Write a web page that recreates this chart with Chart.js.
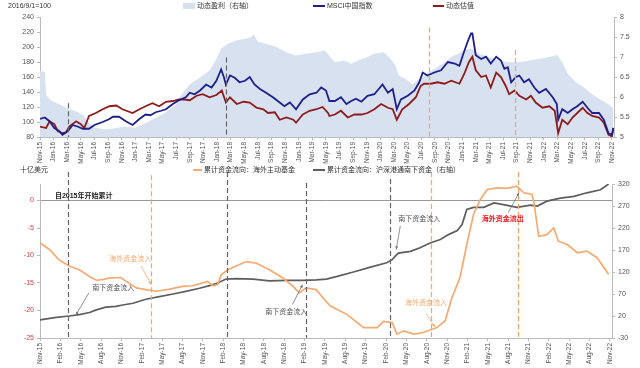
<!DOCTYPE html>
<html>
<head>
<meta charset="utf-8">
<script src="https://cdn.jsdelivr.net/npm/chart.js@4.4.1/dist/chart.umd.min.js"></script>
<style>
  html, body { margin: 0; width: 640px; height: 368px; overflow: hidden; background: #fff;
    font-family: "Liberation Sans", "Noto Sans CJK SC", sans-serif; }
  .box { position: absolute; left: 0; width: 640px; }
  #topBox { top: 0; height: 165px; }
  #botBox { top: 163px; height: 205px; }
  .t { position: absolute; font-size: 7px; line-height: 8px; color: #333; white-space: nowrap; z-index: 2; }
  .sw { position: absolute; z-index: 2; }
</style>
</head>
<body>
<div class="box" id="topBox"><canvas id="topChart"></canvas></div>
<div class="box" id="botBox"><canvas id="botChart"></canvas></div>

<!-- legends / headings -->
<div class="t" style="left:8px;top:2px">2016/9/1=100</div>
<div class="sw" style="left:183px;top:3px;width:12px;height:6px;background:#d8e1f0"></div>
<div class="t" style="left:197px;top:2px">动态盈利（右轴）</div>
<div class="sw" style="left:313px;top:5px;width:12px;height:2px;background:#1c1f8c"></div>
<div class="t" style="left:327px;top:2px">MSCI中国指数</div>
<div class="sw" style="left:433px;top:5px;width:11px;height:2px;background:#8e1b1b"></div>
<div class="t" style="left:446px;top:2px">动态估值</div>

<div class="t" style="left:20px;top:166px">十亿美元</div>
<div class="sw" style="left:193px;top:169px;width:9px;height:2px;background:#f6aa70"></div>
<div class="t" style="left:204px;top:166px">累计资金流向：海外主动基金</div>
<div class="sw" style="left:313px;top:169px;width:12px;height:2px;background:#5e5e5e"></div>
<div class="t" style="left:327px;top:166px">累计资金流向：沪深港通南下资金（右轴）</div>

<script>
// ── palette ───────────────────────────────────────────────────────────────────
const NAVY = '#1c1f8c';
const MAROON = '#8e1b1b';
const AREA = '#d8e1f0';
const ORANGE = '#f6aa70';
const GRAY = '#5e5e5e';
const DASH_GRAY = '#666';
const DASH_ORANGE = '#f4a466';
const AXIS = '#bbb';
const TICK_TXT = '#555';

Chart.defaults.font.family = '"Liberation Sans", "Noto Sans CJK SC", sans-serif';

// ── tick labels (x = months since Nov-15) ────────────────────────────────────
const TOP_TICKS = ['Nov-15','Jan-16','Mar-16','May-16','Jul-16','Sep-16','Nov-16','Jan-17','Mar-17','May-17','Jul-17','Sep-17','Nov-17',
  'Jan-18','Mar-18','May-18','Jul-18','Sep-18','Nov-18','Jan-19','Mar-19','May-19','Jul-19','Sep-19','Nov-19',
  'Jan-20','Mar-20','May-20','Jul-20','Sep-20','Nov-20','Jan-21','Mar-21','May-21','Jul-21','Sep-21','Nov-21',
  'Jan-22','Mar-22','May-22','Jul-22','Sep-22','Nov-22'];
const BOT_TICKS = ['Nov-15','Feb-16','May-16','Aug-16','Nov-16','Feb-17','May-17','Aug-17','Nov-17','Feb-18','May-18','Aug-18','Nov-18',
  'Feb-19','May-19','Aug-19','Nov-19','Feb-20','May-20','Aug-20','Nov-20','Feb-21','May-21','Aug-21','Nov-21',
  'Feb-22','May-22','Aug-22','Nov-22'];

// ── top panel series: [month, value] ─────────────────────────────────────────
const msciIndex = [[0,104],[0.7,106],[1.4,101],[2.1,92],[2.8,88],[3.3,83],[3.8,86],[4.1,88],[4.8,96],[5.5,94],[6.3,91],[7.2,91],
  [8.0,96],[9.2,100],[10.2,104],[10.7,107],[11.6,107],[12.6,101],[13.6,96],[14.6,104],[15.5,110],[16.2,109],[17.0,113],[17.8,115],
  [18.5,117],[19.5,124],[20.4,129],[21.4,133],[22.0,139],[22.7,137],[23.5,142],[24.4,150],[25.2,146],[25.9,155],[26.6,170],[27.0,160],
  [27.3,150],[27.9,162],[28.6,159],[29.3,153],[30.1,155],[30.8,160],[31.5,150],[32.3,144],[33.2,139],[34.2,133],[35.2,126],[35.9,121],
  [36.7,126],[37.6,117],[38.6,130],[39.6,137],[40.6,139],[41.3,146],[42.0,142],[42.5,128],[43.3,128],[44.2,133],[45.0,124],[45.7,128],
  [46.4,131],[47.2,127],[48.1,135],[49.1,137],[50.3,150],[51.1,139],[51.8,144],[52.4,117],[53.0,130],[54.0,135],[55.0,142],[55.7,153],
  [56.2,166],[56.9,162],[57.9,166],[58.9,169],[59.9,180],[60.9,178],[61.6,175],[62.1,189],[62.8,207],[63.3,218],[63.5,218],[64.0,189],
  [64.8,184],[65.5,187],[66.2,178],[67.0,187],[67.7,182],[68.2,171],[68.7,173],[69.2,153],[69.9,160],[70.4,162],[71.1,153],[71.8,157],
  [72.6,146],[73.3,139],[74.3,144],[75.3,133],[75.9,124],[76.1,103],[76.7,117],[77.5,112],[78.2,117],[78.9,121],[79.7,127],[80.4,119],
  [81.1,112],[82.1,112],[82.8,103],[83.5,85],[84.0,83],[84.2,92]];

const valuation = [[0,94],[0.9,92],[1.4,101],[2.1,97],[2.6,88],[3.3,85],[3.8,86],[4.3,94],[5.3,101],[6.0,97],[6.5,92],[7.2,108],
  [8.2,112],[9.2,117],[10.2,121],[11.2,122],[12.1,117],[13.6,112],[14.6,117],[15.5,121],[16.5,125],[17.5,121],[18.5,127],[19.5,128],
  [20.4,130],[21.2,130],[22.0,129],[23.0,135],[23.9,137],[24.9,133],[25.9,136],[26.7,142],[27.3,126],[27.9,133],[28.9,124],[29.9,127],
  [30.8,126],[31.8,119],[32.8,117],[33.5,112],[34.5,113],[35.2,103],[36.2,106],[37.2,103],[37.6,99],[38.6,110],[39.6,115],[40.6,117],
  [41.5,120],[42.3,112],[42.5,108],[43.3,110],[44.2,115],[45.2,106],[46.2,110],[47.2,110],[48.1,112],[49.1,117],[50.1,124],[51.1,119],
  [51.8,117],[52.4,103],[53.2,117],[54.2,124],[55.2,133],[55.9,148],[56.4,151],[57.4,151],[58.4,153],[59.4,151],[60.4,155],[61.6,151],
  [62.3,164],[63.0,180],[63.5,187],[64.0,169],[64.8,160],[65.5,162],[66.2,146],[67.0,166],[67.7,160],[68.4,148],[68.9,137],[69.7,142],
  [70.4,135],[71.4,130],[72.1,135],[72.8,126],[73.8,119],[74.8,121],[75.6,115],[76.1,85],[76.7,103],[77.5,97],[78.2,106],[78.9,112],
  [79.7,119],[80.4,112],[81.1,108],[82.1,106],[82.8,99],[83.5,83],[84.0,81],[84.2,92]];

const earnings = [[0,6.65],[0.7,6.63],[0.9,6.05],[1.6,5.92],[3.0,5.8],[4.0,5.72],[5.4,5.63],[6.4,5.54],[7.0,5.38],[8.0,5.24],[9.5,5.19],
  [11.0,5.22],[12.5,5.26],[14.0,5.23],[15.5,5.35],[17.0,5.48],[18.5,5.62],[20.0,5.82],[20.5,6.0],[22.0,6.32],[23.5,6.49],[24.9,6.66],
  [25.9,6.95],[26.6,7.21],[27.6,7.33],[28.9,7.42],[30.3,7.46],[31.0,7.5],[31.4,7.56],[32.0,7.38],[33.2,7.33],[34.7,7.25],[36.2,7.12],
  [37.6,7.04],[39.1,7.08],[40.6,7.12],[41.8,7.17],[43.3,6.87],[44.7,6.91],[45.7,6.83],[47.2,6.95],[48.1,7.0],[49.1,7.08],[50.5,7.12],
  [51.5,6.95],[52.2,6.79],[52.7,6.54],[53.7,6.45],[54.7,6.32],[55.4,6.41],[56.4,6.54],[57.9,6.7],[59.4,6.87],[60.4,7.0],[61.4,7.08],
  [62.3,7.17],[63.3,7.21],[64.5,7.08],[65.9,7.0],[67.4,6.91],[68.9,6.87],[70.4,6.87],[71.8,6.91],[73.3,6.95],[74.8,7.0],[76.0,7.05],
  [76.7,6.87],[77.5,6.58],[78.7,6.37],[79.9,6.24],[81.1,6.07],[82.3,5.94],[83.5,5.82],[84.2,5.72]];

// ── bottom panel series: [month, value] ──────────────────────────────────────
const activeFunds = [[0,-7.7],[1.4,-8.9],[2.8,-10.8],[4.3,-11.9],[5.8,-12.6],[7.3,-13.8],[8.3,-14.5],[9.2,-14.4],[10.2,-14.1],
  [11.9,-14.0],[12.7,-14.7],[14.2,-15.9],[15.6,-16.2],[17.1,-16.5],[19.1,-16.1],[21.0,-15.6],[22.5,-15.5],[24.7,-14.7],[25.5,-15.5],
  [26.2,-15.3],[26.7,-13.5],[27.7,-12.6],[28.9,-11.9],[30.4,-11.1],[31.9,-11.4],[33.8,-12.6],[35.8,-14.1],[37.3,-15.6],[38.2,-16.8],
  [39.2,-15.9],[40.7,-16.2],[41.9,-18.0],[42.8,-19.2],[45.2,-20.7],[47.7,-23.1],[49.7,-23.1],[50.6,-22.0],[51.9,-22.2],[52.6,-24.3],
  [53.6,-23.7],[55.1,-24.3],[56.5,-24.0],[58.5,-23.1],[59.7,-21.9],[60.7,-17.7],[61.9,-14.0],[62.9,-8.0],[63.9,-2.5],[64.9,0.2],
  [65.9,2.0],[67.4,2.3],[68.8,2.2],[70.3,2.6],[71.3,1.4],[72.5,1.1],[72.8,-0.4],[73.5,-6.5],[74.7,-6.2],[75.7,-5.0],[76.4,-7.4],
  [77.7,-8.0],[79.2,-9.5],[80.6,-9.2],[82.1,-10.4],[83.8,-13.4]];

const southbound = [[0,11],[2.4,17],[4.3,20],[5.8,23],[7.3,28],[8.3,34],[9.7,40],[11.2,42],[12.2,45],[13.7,49],[15.6,58],[17.6,64],
  [19.6,70],[21.5,76],[23.5,83],[25.0,89],[26.2,95],[27.4,104],[28.9,105],[31.4,104],[33.8,100],[36.3,101],[38.7,101],[40.7,102],
  [42.2,104],[43.8,110],[46.2,120],[48.7,131],[51.1,141],[51.9,148],[52.8,163],[54.6,167],[56.0,175],[57.5,186],[59.0,194],[60.2,205],
  [61.5,214],[62.2,228],[62.9,262],[63.9,267],[65.4,267],[66.9,277],[68.3,273],[70.3,267],[72.3,272],[73.3,270],[74.7,281],[76.7,288],
  [78.7,292],[80.6,300],[82.6,307],[83.8,320]];

// ── annotations ───────────────────────────────────────────────────────────────
// vertical dashed markers: [month, top value on left axis, colour]
const TOP_MARKERS = [[4.1,125,DASH_GRAY],[27.3,186,DASH_GRAY],[57.2,226,DASH_ORANGE],[69.8,196,DASH_ORANGE]];
const BOT_MARKERS = [[4.2,5.2,DASH_GRAY],[16.4,4.6,DASH_ORANGE],[27.6,5.2,DASH_GRAY],[39.2,3.2,DASH_GRAY],
  [51.6,3.9,DASH_GRAY],[57.6,5.2,DASH_ORANGE],[70.4,5.2,DASH_ORANGE]];
const BOT_NOTES = [
  { text: '自2015年开始累计', at: [2.2, 0.85], color: '#222', bold: true, align: 'left' },
  { text: '海外资金流入', at: [13.3, -10.6], color: ORANGE, arrow: [14.9, -11.9, 16.4, -15.3] },
  { text: '南下资金流入', at: [10.8, -15.9], color: TICK_TXT, arrow: [7.2, -16.8, 5.3, -20.8] },
  { text: '南下资金流入', at: [36.3, -20.2], color: TICK_TXT, arrow: [37.2, -18.9, 38.7, -15.3] },
  { text: '南下资金流入', at: [55.9, -3.4], color: TICK_TXT, arrow: [53.1, -4.6, 52.5, -8.9] },
  { text: '海外资金流出', at: [68.2, -3.4], color: '#e8141c', bold: true, arrow: [69.0, -2.2, 70.6, 1.4] },
  { text: '海外资金流入', at: [56.9, -18.7], color: ORANGE, arrow: [56.9, -20.6, 58.2, -23.0] },
];

const toXY = (arr) => arr.map(([x, y]) => ({ x, y }));

function arrowTo(ctx, x0, y0, x1, y1) {
  ctx.beginPath(); ctx.moveTo(x0, y0); ctx.lineTo(x1, y1); ctx.stroke();
  const a = Math.atan2(y1 - y0, x1 - x0), h = 3.5;
  ctx.beginPath();
  ctx.moveTo(x1, y1);
  ctx.lineTo(x1 - h * Math.cos(a - 0.45), y1 - h * Math.sin(a - 0.45));
  ctx.lineTo(x1 - h * Math.cos(a + 0.45), y1 - h * Math.sin(a + 0.45));
  ctx.closePath(); ctx.fill();
}

const marks = {
  id: 'marks',
  afterDatasetsDraw(chart, args, opts) {
    const { ctx, chartArea, scales } = chart;
    const x = scales.x, y = scales.y;
    ctx.save();
    ctx.lineWidth = 1.2;
    ctx.setLineDash([5, 3]);
    for (const [m, top, color] of opts.markers || []) {
      const px = Math.round(x.getPixelForValue(m)) + 0.5;
      ctx.strokeStyle = color;
      ctx.beginPath(); ctx.moveTo(px, y.getPixelForValue(top)); ctx.lineTo(px, chartArea.bottom); ctx.stroke();
    }
    ctx.setLineDash([]);
    for (const n of opts.notes || []) {
      ctx.font = `${n.bold ? 'bold ' : ''}7px "Liberation Sans", "Noto Sans CJK SC", sans-serif`;
      ctx.fillStyle = n.color;
      ctx.textAlign = n.align || 'center';
      ctx.textBaseline = 'middle';
      ctx.fillText(n.text, x.getPixelForValue(n.at[0]), y.getPixelForValue(n.at[1]));
      if (n.arrow) {
        const c = n.color === ORANGE ? ORANGE : '#777';
        ctx.strokeStyle = c; ctx.fillStyle = c; ctx.lineWidth = 0.8;
        arrowTo(ctx, x.getPixelForValue(n.arrow[0]), y.getPixelForValue(n.arrow[1]),
          x.getPixelForValue(n.arrow[2]), y.getPixelForValue(n.arrow[3]));
      }
    }
    ctx.restore();
  },
};

const axisGrid = { drawOnChartArea: false, tickLength: 3, color: AXIS };

// ── top panel ────────────────────────────────────────────────────────────────
new Chart(document.getElementById('topChart'), {
  type: 'line',
  data: { datasets: [
    { label: 'MSCI中国指数', data: toXY(msciIndex), yAxisID: 'y', borderColor: NAVY, borderWidth: 1.8, pointRadius: 0, order: 1 },
    { label: '动态估值', data: toXY(valuation), yAxisID: 'y', borderColor: MAROON, borderWidth: 1.8, pointRadius: 0, order: 2 },
    { label: '动态盈利（右轴）', data: toXY(earnings), yAxisID: 'y1', borderWidth: 0, borderColor: AREA, backgroundColor: AREA, fill: 'start', pointRadius: 0, order: 3 },
  ]},
  options: {
    animation: false, responsive: true, maintainAspectRatio: false, events: [],
    layout: { padding: { top: 17, left: 0, right: 0, bottom: 0 } },
    plugins: { legend: { display: false }, tooltip: { enabled: false }, marks: { markers: TOP_MARKERS } },
    scales: {
      x: { type: 'linear', min: 0, max: 84.3,
        afterBuildTicks: (s) => { s.ticks = TOP_TICKS.map((_, i) => ({ value: i * 2 })); },
        afterFit: (s) => { s.height = 28; },
        ticks: { autoSkip: false, minRotation: 90, maxRotation: 90, padding: 2, color: TICK_TXT, font: { size: 6.5 },
          callback: (v, i) => TOP_TICKS[i] },
        grid: axisGrid, border: { color: AXIS } },
      y: { position: 'left', min: 80, max: 240,
        afterFit: (s) => { s.width = 40; },
        ticks: { stepSize: 20, padding: 3, color: TICK_TXT, font: { size: 7 } },
        grid: axisGrid, border: { color: AXIS } },
      y1: { position: 'right', min: 5, max: 8,
        afterFit: (s) => { s.width = 26; },
        ticks: { stepSize: 0.5, padding: 3, color: TICK_TXT, font: { size: 7 }, callback: (v) => String(v) },
        grid: axisGrid, border: { color: AXIS } },
    },
  },
  plugins: [marks],
});

// ── bottom panel ─────────────────────────────────────────────────────────────
new Chart(document.getElementById('botChart'), {
  type: 'line',
  data: { datasets: [
    { label: '累计资金流向：海外主动基金', data: toXY(activeFunds), yAxisID: 'y', borderColor: ORANGE, borderWidth: 1.7, pointRadius: 0 },
    { label: '累计资金流向：沪深港通南下资金（右轴）', data: toXY(southbound), yAxisID: 'y1', borderColor: GRAY, borderWidth: 1.7, pointRadius: 0 },
  ]},
  options: {
    animation: false, responsive: true, maintainAspectRatio: false, events: [],
    layout: { padding: { top: 21, left: 0, right: 0, bottom: 0 } },
    plugins: { legend: { display: false }, tooltip: { enabled: false }, marks: { markers: BOT_MARKERS, notes: BOT_NOTES } },
    scales: {
      x: { type: 'linear', min: 0, max: 84.3,
        afterBuildTicks: (s) => { s.ticks = BOT_TICKS.map((_, i) => ({ value: i * 3 })); },
        afterFit: (s) => { s.height = 30; },
        ticks: { autoSkip: false, minRotation: 90, maxRotation: 90, padding: 2, color: TICK_TXT, font: { size: 6.5 },
          callback: (v, i) => BOT_TICKS[i] },
        grid: axisGrid, border: { color: AXIS } },
      y: { position: 'left', min: -25, max: 3,
        afterFit: (s) => { s.width = 40; },
        afterBuildTicks: (s) => { s.ticks = [-25, -20, -15, -10, -5, 0].map((value) => ({ value })); },
        ticks: { padding: 3, color: '#e0393e', font: { size: 7 } },
        grid: { tickLength: 3, tickColor: AXIS, color: (c) => (c.tick && c.tick.value === 0 ? '#999' : 'rgba(0,0,0,0)') },
        border: { color: AXIS } },
      y1: { position: 'right', min: -30, max: 320,
        afterFit: (s) => { s.width = 28; },
        ticks: { stepSize: 50, padding: 3, color: TICK_TXT, font: { size: 7 } },
        grid: axisGrid, border: { color: AXIS } },
    },
  },
  plugins: [marks],
});
</script>
</body>
</html>
